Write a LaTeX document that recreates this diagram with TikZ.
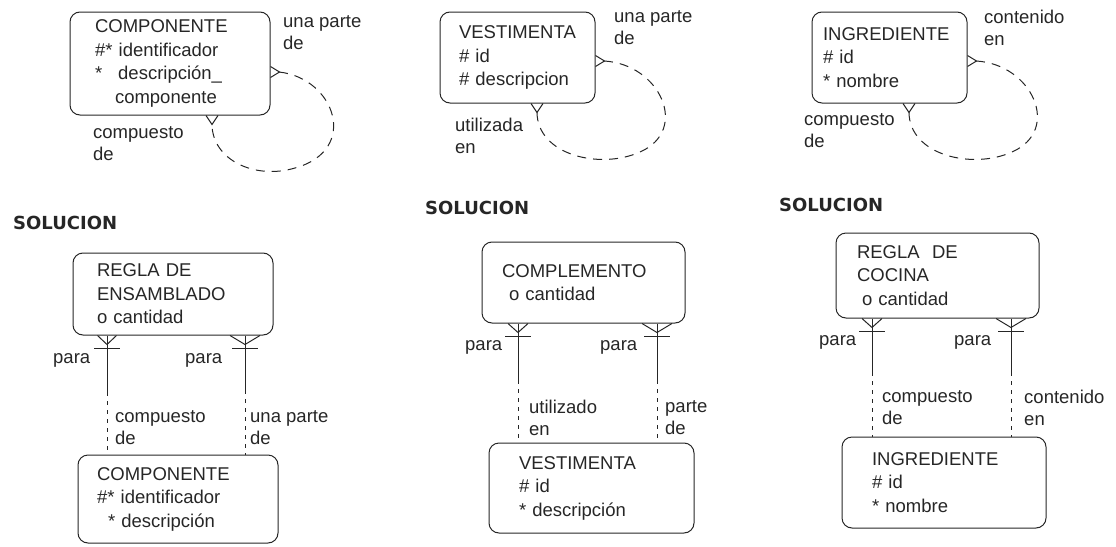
\documentclass[tikz,border=0pt]{standalone}
\usepackage{fontspec}
\setmainfont{Liberation Sans}
\newfontfamily\solfont{DejaVu Sans}
\usepackage{tikz}
\usetikzlibrary{calc}
\colorlet{ink}{black!85}

\begin{document}
\begin{tikzpicture}[x=1pt, y=-1pt,
  every node/.style={text=ink},
  entity/.style={draw=ink, line width=1pt, rounded corners=10pt, align=left, inner ysep=0pt, font=\fontsize{18.5}{23.5}\selectfont},
  lbl/.style={inner sep=0pt, align=left, font=\fontsize{18.5}{22}\selectfont},
  head/.style={anchor=west, inner sep=0pt, font=\solfont\bfseries\fontsize{18}{22}\selectfont},
  must/.style={draw=ink, line width=1pt},
  may/.style={must, dash pattern=on 4pt off 5pt},
  opt/.style={must, dash pattern=on 9pt off 7pt},
  pics/foot/.style={code={\draw[must] (-#1,0) -- (0,9) -- (#1,0);}},
  pics/footbar/.style={code={\draw[must] (-#1,0) -- (0,9) -- (#1,0); \draw[must] (-13,13) -- (13,13);}}]
\useasboundingbox (0,0) rectangle (1116,546);

% top row: the three recursive entities
\node[entity, inner xsep=25pt, text width=150pt, minimum height=103pt] (comp1) at (170,63.5) {COMPONENTE\\\#* identificador\\{*}\hspace{16pt}descripción\_\\\hspace*{20pt}componente};
\node[entity, inner xsep=19pt, text width=117pt, minimum height=91pt] (vest1) at (517.5,57.5) {VESTIMENTA\\\# id\\\# descripcion};
\node[entity, inner xsep=11pt, text width=133pt, minimum height=91pt] (ingr1) at (889.5,57.5) {INGREDIENTE\\\# id\\{*} nombre};

\coordinate (c1a) at (279,72);
\coordinate (c1b) at (212,124);
\pic[rotate=90] at (comp1.east |- c1a) {foot=5.5};
\pic at (comp1.south -| c1b) {foot=6};
\draw[opt] (c1a) .. controls (335,78) and (360,150) .. (295,168) .. controls (255,180) and (212,160) .. (c1b);

\coordinate (v1a) at (604,61);
\coordinate (v1b) at (537,112);
\pic[rotate=90] at (vest1.east |- v1a) {foot=5.5};
\pic at (vest1.south -| v1b) {foot=6};
\draw[opt] (v1a) .. controls (660,64) and (690,130) .. (640,152) .. controls (600,170) and (537,155) .. (v1b);

\coordinate (i1a) at (976,61);
\coordinate (i1b) at (909,112);
\pic[rotate=90] at (ingr1.east |- i1a) {foot=5.5};
\pic at (ingr1.south -| i1b) {foot=6};
\draw[opt] (i1a) .. controls (1032,64) and (1062,130) .. (1012,152) .. controls (972,170) and (909,155) .. (i1b);

\node[lbl, anchor=north west] (up1) at (283,15) {una parte\\de};
\node[lbl, anchor=north west] (cd1) at (93,126) {compuesto\\de};
\node[lbl, anchor=north west] (up2) at (614,10) {una parte\\de};
\node[lbl, anchor=north west] (ue2) at (455,118) {utilizada\\en};
\node[lbl, anchor=north west] (ce3) at (984,10) {contenido\\en};
\node[lbl, anchor=north west] (cd3) at (804,113) {compuesto\\de};

% bottom row: solutions with intersection entities
\node[head] (sol1) at (13,223) {SOLUCION};
\node[head] (sol2) at (425,208) {SOLUCION};
\node[head] (sol3) at (779,205) {SOLUCION};

\node[entity, inner xsep=24pt, text width=152pt, minimum height=82pt] (ens) at (173,294) {REGLA DE\\ENSAMBLADO\\o cantidad};
\node[entity, inner xsep=19pt, text width=162pt, minimum height=88pt] (comp2) at (178,499) {COMPONENTE\\\#* identificador\\\hspace*{11pt}* descripción};
\node[entity, inner xsep=20pt, text width=163pt, minimum height=81pt] (compl) at (583.5,282.5) {COMPLEMENTO\\\hspace*{7pt}o cantidad};
\node[entity, inner xsep=30pt, text width=145pt, minimum height=90pt] (vest2) at (591.5,488) {VESTIMENTA\\\# id\\{*} descripción};
\node[entity, inner xsep=21pt, text width=161pt, minimum height=85pt] (coc) at (937.5,275.5) {REGLA\ \ DE\\COCINA\\\hspace*{5pt}o cantidad};
\node[entity, inner xsep=30pt, text width=144pt, minimum height=91pt] (ingr2) at (944,482.5) {INGREDIENTE\\\# id\\{*} nombre};

\coordinate (e1) at (107,392);
\coordinate (e2) at (245,390);
\draw[must] (ens.south -| e1) -- (e1);
\draw[may] (e1) -- (comp2.north -| e1);
\draw[must] (ens.south -| e2) -- (e2);
\draw[may] (e2) -- (comp2.north -| e2);
\pic at (ens.south -| e1) {footbar=9.5};
\pic at (ens.south -| e2) {footbar=15};

\coordinate (e3) at (518,380);
\coordinate (e4) at (657,380);
\draw[must] (compl.south -| e3) -- (e3);
\draw[may] (e3) -- (vest2.north -| e3);
\draw[must] (compl.south -| e4) -- (e4);
\draw[may] (e4) -- (vest2.north -| e4);
\pic at (compl.south -| e3) {footbar=10};
\pic at (compl.south -| e4) {footbar=15};

\coordinate (e5) at (872,372);
\coordinate (e6) at (1011,372);
\draw[must] (coc.south -| e5) -- (e5);
\draw[may] (e5) -- (ingr2.north -| e5);
\draw[must] (coc.south -| e6) -- (e6);
\draw[may] (e6) -- (ingr2.north -| e6);
\pic at (coc.south -| e5) {footbar=10};
\pic at (coc.south -| e6) {footbar=15};

\node[lbl, anchor=west] (p1) at (53,360) {para};
\node[lbl, anchor=west] (p2) at (185,360) {para};
\node[lbl, anchor=west] (p3) at (465,347) {para};
\node[lbl, anchor=west] (p4) at (600,347) {para};
\node[lbl, anchor=west] (p5) at (819,342) {para};
\node[lbl, anchor=west] (p6) at (954,342) {para};

\node[lbl, anchor=north west] (cd4) at (115,410) {compuesto\\de};
\node[lbl, anchor=north west] (up4) at (250,410) {una parte\\de};
\node[lbl, anchor=north west] (ue5) at (529,400) {utilizado\\en};
\node[lbl, anchor=north west] (pd5) at (665,400) {parte\\de};
\node[lbl, anchor=north west] (cd6) at (882,390) {compuesto\\de};
\node[lbl, anchor=north west] (ce6) at (1024,390) {contenido\\en};
\end{tikzpicture}
\end{document}
